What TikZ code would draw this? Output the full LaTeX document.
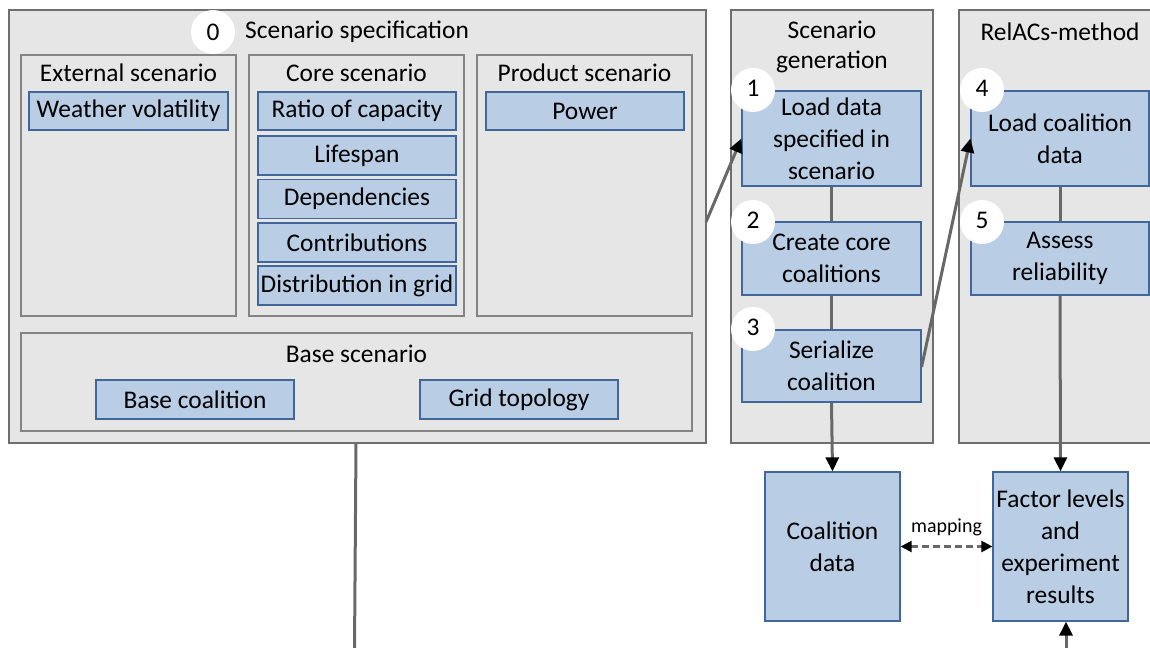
\documentclass[tikz,border=0pt]{standalone}
\usepackage{fontspec}
\setmainfont{Carlito}
\usetikzlibrary{arrows.meta,calc}
\definecolor{grayfill}{HTML}{E6E6E6}
\definecolor{grayline}{HTML}{6E6E6E}
\definecolor{blufill}{HTML}{B9CDE5}
\definecolor{bluline}{HTML}{41679A}
\definecolor{conn}{HTML}{686868}
\begin{document}
\begin{tikzpicture}[x=1bp,y=-1bp,
  txt/.style={font=\fontsize{25.5}{32}\selectfont, inner sep=0pt},
  container/.style={draw=grayline, fill=grayfill, line width=1.2bp, inner sep=0pt},
  sub/.style={draw=grayline!85, fill=grayfill, line width=1.2bp, inner sep=0pt},
  item/.style={draw=bluline, fill=blufill, line width=1.2bp, inner sep=0pt, align=center,
     font=\fontsize{25.5}{32}\selectfont},
  num/.style={circle, fill=white, minimum size=44bp, inner sep=0pt, font=\fontsize{25.5}{32}\selectfont},
  conline/.style={draw=conn, line width=3bp},
  tip/.style={-{Triangle[length=14bp,width=13bp,color=black]}},
]
\useasboundingbox (0,0) rectangle (1150,648);
% containers
\node[container, minimum width=697bp, minimum height=433bp] (spec) at (357.5,226.5) {};
\node[container, minimum width=202bp, minimum height=433bp] (gen) at (832,226.5) {};
\node[container, minimum width=210bp, minimum height=433bp] (rel) at (1064,226.5) {};
% sub boxes
\node[sub, minimum width=215bp, minimum height=261bp] (ext) at (128.5,185.5) {};
\node[sub, minimum width=215bp, minimum height=261bp] (core) at (356.5,185.5) {};
\node[sub, minimum width=215bp, minimum height=261bp] (prod) at (584.5,185.5) {};
\node[sub, minimum width=671bp, minimum height=98bp] (base) at (356.5,382) {};
% titles
\node[txt, anchor=west] (spectitle) at (245,32) {Scenario specification};
\node[txt] (exttitle) at (128.5,73) {External scenario};
\node[txt] (coretitle) at (356.5,73) {Core scenario};
\node[txt] (prodtitle) at (584.5,73) {Product scenario};
\node[txt] (basetitle) at (356.5,354) {Base scenario};
\node[txt, align=center, font=\fontsize{25.5}{31}\selectfont] (gentitle) at (832,47) {Scenario\\generation};
\node[txt] (reltitle) at (1060,32) {RelACs-method};
% items
\node[item, minimum width=199bp, minimum height=38bp] (weather) at (128.5,111) {Weather volatility};
\node[item, minimum width=198bp, minimum height=38bp] (ratio) at (357,111) {Ratio of capacity};
\node[item, minimum width=198bp, minimum height=39bp] (life) at (357,155.5) {Lifespan};
\node[item, minimum width=198bp, minimum height=39bp] (dep) at (357,199) {Dependencies};
\node[item, minimum width=198bp, minimum height=39bp] (contr) at (357,242.5) {Contributions};
\node[item, minimum width=198bp, minimum height=39bp] (distr) at (357,285.5) {Distribution in grid};
\node[item, minimum width=198bp, minimum height=38bp] (power) at (585,111) {Power};
\node[item, minimum width=198bp, minimum height=39bp] (basecoal) at (195,399.5) {Base coalition};
\node[item, minimum width=198bp, minimum height=39bp] (gridtop) at (519,399.5) {Grid topology};
% process steps
\node[item, minimum width=179bp, minimum height=95bp] (load) at (831.5,138.5) {Load data\\specified in\\scenario};
\node[item, minimum width=179bp, minimum height=73bp] (create) at (831.5,258.5) {Create core\\coalitions};
\node[item, minimum width=179bp, minimum height=72bp] (serial) at (831.5,366) {Serialize\\coalition};
\node[item, minimum width=178bp, minimum height=95bp] (loadc) at (1060,138.5) {Load coalition\\data};
\node[item, minimum width=178bp, minimum height=73bp] (assess) at (1060,258.5) {Assess\\reliability};
\node[item, minimum width=135bp, minimum height=149bp] (coal) at (832.5,546.5) {Coalition\\data};
\node[item, minimum width=135bp, minimum height=149bp] (factor) at (1060.5,546.5) {Factor levels\\and\\experiment\\results};
% number circles
\node[num] (n0) at (213,32) {0};
\node[num] (n1) at (753,90) {\raisebox{3bp}{1}};
\node[num] (n2) at (753,222) {\raisebox{3bp}{2}};
\node[num] (n3) at (753,329) {\raisebox{3bp}{3}};
\node[num] (n4) at (982,90) {\raisebox{3bp}{4}};
\node[num] (n5) at (982,222) {\raisebox{3bp}{5}};
% coordinates for free ends
\coordinate (specout) at (706,222);
\coordinate (botleft) at (356,650);
\coordinate (botright) at (1066,650);
% connectors
\draw[conline] (load.south) -- (create.north);
\draw[conline] (create.south) -- (serial.north);
\draw[conline, tip] (serial.south) -- (coal.north);
\draw[conline] (loadc.south) -- (assess.north);
\draw[conline, tip] (assess.south) -- (factor.north);
\draw[conline, tip] (specout) -- (load.west);
\draw[conline, tip] ([yshift=-1bp]serial.east) -- (loadc.west);
\draw[conline] ([xshift=-1.5bp]spec.south) -- ([xshift=-1.5bp]botleft);
\draw[conline, tip] (botright) -- (factor.south -| botright);
\draw[draw=conn, line width=2.2bp, dash pattern=on 7bp off 4bp,
  {Triangle[length=11bp,width=11bp,color=black]}-{Triangle[length=11bp,width=11bp,color=black]}]
  (coal.east) -- node[above=9bp, font=\fontsize{20}{22}\selectfont, inner sep=0pt] (maplbl) {mapping} (factor.west);
\end{tikzpicture}
\end{document}
